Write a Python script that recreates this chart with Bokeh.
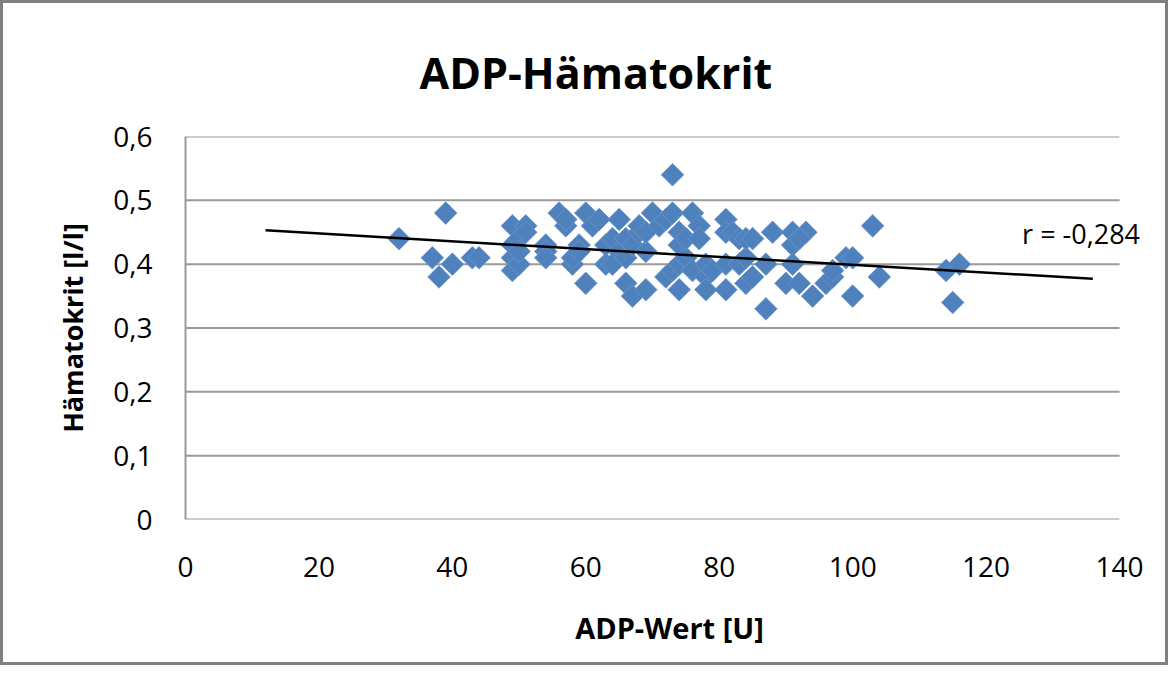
import numpy as np
from bokeh.plotting import figure
from bokeh.models import Range1d, FixedTicker, CustomJSTickFormatter, Label
from bokeh.embed import file_html
from bokeh.resources import INLINE

# ---- data ----
adp_wert = [32, 37, 38, 39, 40, 43, 44,
            49, 49, 49, 49, 50, 50, 51, 51, 50,
            54, 54, 54, 56, 57, 57, 58, 58, 59, 59, 60, 60, 61, 62,
            63, 63, 64, 64, 65, 65, 66, 66, 66, 67, 67, 68, 68, 69, 69, 69,
            70, 71, 72, 72, 73, 73, 73, 74, 74, 74, 74, 75, 75, 76, 76,
            77, 77, 78, 78, 78, 79, 81, 81, 81, 81, 82, 83, 83, 84, 84, 84,
            85, 85, 87, 87, 88, 90, 91, 91, 91, 92, 93, 92, 94, 96, 97, 97,
            99, 100, 100, 103, 104, 114, 115, 116]
haematokrit = [0.44, 0.41, 0.38, 0.48, 0.40, 0.41, 0.41,
               0.46, 0.43, 0.41, 0.39, 0.40, 0.44, 0.46, 0.45, 0.42,
               0.43, 0.42, 0.41, 0.48, 0.46, 0.47, 0.40, 0.41, 0.43, 0.42, 0.37, 0.48, 0.46, 0.47,
               0.40, 0.43, 0.40, 0.44, 0.47, 0.42, 0.44, 0.41, 0.37, 0.35, 0.43, 0.45, 0.46, 0.36, 0.42, 0.45,
               0.48, 0.46, 0.38, 0.47, 0.54, 0.48, 0.39, 0.45, 0.43, 0.40, 0.36, 0.41, 0.44, 0.48, 0.39,
               0.46, 0.44, 0.38, 0.40, 0.36, 0.39, 0.47, 0.45, 0.40, 0.36, 0.45, 0.44, 0.40, 0.41, 0.37, 0.44,
               0.44, 0.38, 0.40, 0.33, 0.45, 0.37, 0.45, 0.43, 0.40, 0.37, 0.45, 0.44, 0.35, 0.37, 0.38, 0.39,
               0.41, 0.41, 0.35, 0.46, 0.38, 0.39, 0.34, 0.40]
trend_x = [12, 136]
trend_y = [0.453, 0.377]
x_ticks = [0, 20, 40, 60, 80, 100, 120, 140]
y_ticks = [0, 0.1, 0.2, 0.3, 0.4, 0.5, 0.6]
title_text = "ADP-Hämatokrit"
x_title = "ADP-Wert [U]"
y_title = "Hämatokrit [l/l]"
r_text = "r = -0,284"

FONT = "Open Sans"
GRID = "#9a9a9a"

# layout: axis area is 934 px wide for 0..140; the frame extends further right
AXIS_W = 934
FRAME_W = 968
x_max = x_ticks[-1]
x_end = x_max * FRAME_W / AXIS_W

p = figure(frame_width=FRAME_W, frame_height=383,
           min_border_left=182, min_border_top=133, min_border_right=12, min_border_bottom=143,
           x_range=Range1d(0, x_end), y_range=Range1d(0, 0.6),
           output_backend="svg", toolbar_location=None)
p.styles = {"border": "3px solid #808080"}
p.outline_line_color = None
p.background_fill_color = "white"
p.border_fill_color = "white"

p.title.text = title_text
p.title.align = "left"
p.title.offset = 234
p.title.text_font = FONT
p.title.text_font_style = "bold"
p.title.text_font_size = "43px"
p.title.text_color = "black"
p.title.standoff = 70

p.xgrid.grid_line_color = None
p.ygrid.grid_line_color = None

fmt_y = CustomJSTickFormatter(code="return tick == 0 ? '0' : tick.toFixed(1).replace('.', ',');")
p.xaxis.ticker = FixedTicker(ticks=x_ticks)
p.yaxis.ticker = FixedTicker(ticks=y_ticks)
p.yaxis.formatter = fmt_y

for ax in (p.xaxis[0], p.yaxis[0]):
    ax.axis_line_color = GRID
    ax.axis_line_width = 2
    ax.major_tick_line_color = None
    ax.minor_tick_line_color = None
    ax.major_label_text_font = FONT
    ax.major_label_text_font_size = "28px"
    ax.major_label_text_color = "black"
    ax.axis_label_text_font = FONT
    ax.axis_label_text_font_style = "bold"
    ax.axis_label_text_color = "black"

p.xaxis.axis_line_color = None
p.xaxis.axis_label_text_font_size = "29px"
p.yaxis.axis_label_text_font_size = "27px"
p.xaxis.major_label_standoff = 31
p.yaxis.major_label_standoff = 27
p.xaxis.axis_label = x_title
p.yaxis.axis_label = y_title
p.xaxis.axis_label_standoff = 28
p.yaxis.axis_label_standoff = 19

# horizontal gridlines (and x axis line) spanning 0..140
p.segment(x0=[0] * len(y_ticks), x1=[x_max] * len(y_ticks), y0=y_ticks, y1=y_ticks,
          line_color=GRID, line_width=2)

p.scatter(adp_wert, haematokrit, marker="square", angle=np.pi / 4, size=16,
          fill_color="#4F81BD", line_color="#6b97cc", line_width=0.8)
p.line(trend_x, trend_y, line_color="black", line_width=2.5)

p.add_layout(Label(x=125.4, y=0.448, text=r_text, text_font=FONT, text_font_size="27px",
                   text_align="left", text_baseline="middle", text_color="black"))

open("out.html", "w").write(file_html(p, INLINE))
